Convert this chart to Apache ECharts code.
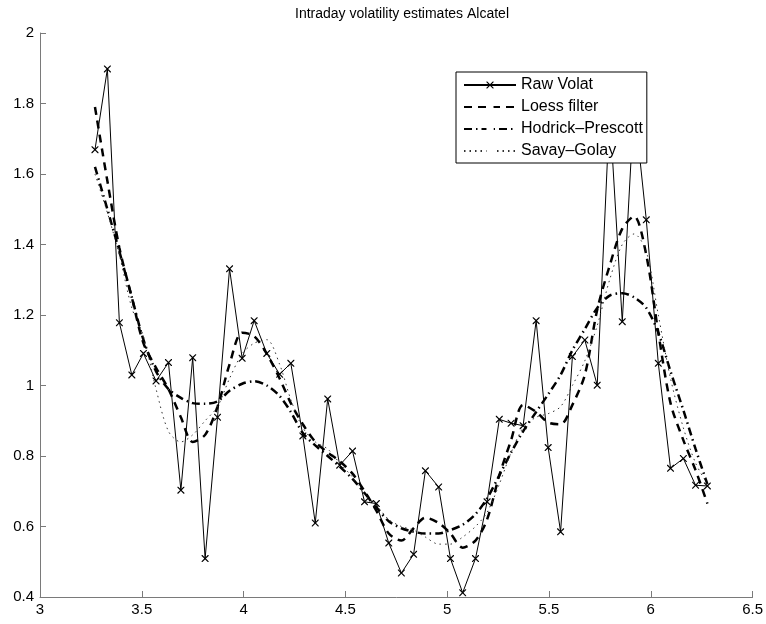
<!DOCTYPE html>
<html>
<head>
<meta charset="utf-8">
<script src="https://cdn.jsdelivr.net/npm/echarts@6/dist/echarts.min.js"></script>
<style>
  html, body { margin: 0; padding: 0; background: #fff; }
  #chart { width: 766px; height: 624px; }
</style>
</head>
<body>
<div id="chart"></div>
<script>
// sample times (x axis)
const times = [3.270, 3.331, 3.390, 3.451, 3.508, 3.570, 3.631, 3.692, 3.750, 3.811,
  3.872, 3.931, 3.993, 4.052, 4.114, 4.177, 4.232, 4.291, 4.352, 4.413,
  4.472, 4.535, 4.594, 4.652, 4.713, 4.775, 4.835, 4.893, 4.958, 5.016,
  5.076, 5.139, 5.196, 5.256, 5.314, 5.373, 5.437, 5.496, 5.557, 5.615,
  5.676, 5.737, 5.798, 5.860, 5.918, 5.978, 6.037, 6.097, 6.160, 6.220, 6.278]

const rawVolat = [1.669, 1.898, 1.178, 1.030, 1.091, 1.013, 1.065, 0.703, 1.079, 0.509,
  0.910, 1.331, 1.077, 1.184, 1.091, 1.032, 1.063, 0.857, 0.610, 0.962,
  0.774, 0.814, 0.670, 0.665, 0.553, 0.468, 0.521, 0.758, 0.712, 0.509,
  0.412, 0.509, 0.670, 0.904, 0.893, 0.886, 1.184, 0.824, 0.585, 1.082,
  1.129, 1.001, 1.78, 1.181, 1.80, 1.470, 1.063, 0.765, 0.793, 0.717, 0.715]

const loess = [1.79, 1.58, 1.39, 1.25, 1.12, 1.05, 0.99, 0.91, 0.84, 0.86,
  0.94, 1.06, 1.15, 1.14, 1.09, 1.02, 0.95, 0.89, 0.84, 0.81,
  0.785, 0.75, 0.70, 0.645, 0.58, 0.56, 0.595, 0.625, 0.61, 0.58,
  0.54, 0.56, 0.62, 0.745, 0.845, 0.945, 0.925, 0.895, 0.89, 0.945,
  1.03, 1.215, 1.34, 1.445, 1.48, 1.37, 1.15, 0.95, 0.845, 0.76, 0.665]

const hodrick = [1.62, 1.50, 1.38, 1.25, 1.13, 1.04, 0.99, 0.965, 0.95, 0.948,
  0.955, 0.985, 1.005, 1.012, 1.0, 0.97, 0.925, 0.865, 0.83, 0.80,
  0.77, 0.735, 0.695, 0.655, 0.615, 0.595, 0.585, 0.58, 0.58, 0.59,
  0.605, 0.635, 0.68, 0.745, 0.81, 0.87, 0.925, 0.975, 1.03, 1.10,
  1.16, 1.22, 1.255, 1.262, 1.25, 1.22, 1.15, 1.04, 0.93, 0.82, 0.72]

const savay = [1.60, 1.49, 1.37, 1.22, 1.14, 0.99, 0.87, 0.84, 0.86, 0.90,
  0.94, 1.02, 1.09, 1.12, 1.13, 1.06, 0.96, 0.88, 0.84, 0.82,
  0.78, 0.74, 0.69, 0.66, 0.62, 0.60, 0.59, 0.57, 0.55, 0.55,
  0.57, 0.60, 0.64, 0.72, 0.81, 0.88, 0.91, 0.92, 0.94, 1.00,
  1.07, 1.17, 1.30, 1.40, 1.43, 1.38, 1.20, 1.02, 0.88, 0.78, 0.72]

const seriesNames = ['Raw Volat', 'Loess filter', 'Hodrick–Prescott', 'Savay–Golay']

function pairs(values) {
  return times.map((t, i) => [t, values[i]])
}

const chart = echarts.init(document.getElementById('chart'))
const font = 'Liberation Sans, Arial, Helvetica, sans-serif'
const axisGray = '#7a7a7a'
const crossMark = 'path://M0,0L1.2,0L5,3.8L8.8,0L10,0L10,1.2L6.2,5L10,8.8L10,10L8.8,10L5,6.2L1.2,10L0,10L0,8.8L3.8,5L0,1.2Z'
// no marker in the legend for the smoothed lines
const hiddenMark = { color: 'rgba(0,0,0,0)', borderWidth: 0 }

const option = {
  animation: false,
  backgroundColor: '#fff',
  textStyle: { fontFamily: font },
  title: {
    text: 'Intraday volatility estimates Alcatel',
    left: 397,
    textAlign: 'center',
    top: 2,
    textStyle: { fontSize: 14, fontWeight: 'normal', color: '#000', fontFamily: font },
  },
  grid: { left: 40, right: 12, top: 33, bottom: 27 },
  legend: {
    orient: 'vertical',
    left: 456,
    top: 72,
    padding: [5, 4, 4, 7],
    itemGap: 6,
    itemWidth: 52,
    itemHeight: 9,
    backgroundColor: '#fff',
    borderColor: '#000',
    borderWidth: 1,
    borderRadius: 0,
    textStyle: { fontSize: 16, color: '#000', fontFamily: font },
    data: [
      { name: seriesNames[0] },
      { name: seriesNames[1], itemStyle: hiddenMark },
      { name: seriesNames[2], itemStyle: hiddenMark },
      { name: seriesNames[3], itemStyle: hiddenMark },
    ],
  },
  xAxis: {
    type: 'value',
    min: 3,
    max: 6.5,
    interval: 0.5,
    axisLine: { onZero: false, lineStyle: { color: axisGray, width: 1 } },
    axisTick: { inside: true, length: 6, lineStyle: { color: axisGray } },
    axisLabel: { color: '#000', fontSize: 15, margin: 5, fontFamily: font },
    splitLine: { show: false },
  },
  yAxis: {
    type: 'value',
    min: 0.4,
    max: 2,
    interval: 0.2,
    axisLine: { show: true, onZero: false, lineStyle: { color: axisGray, width: 1 } },
    axisTick: { show: true, inside: true, length: 6, lineStyle: { color: axisGray } },
    axisLabel: { color: '#000', fontSize: 15, margin: 6, fontFamily: font },
    splitLine: { show: false },
  },
  series: [
    {
      name: seriesNames[0],
      type: 'line',
      data: pairs(rawVolat),
      symbol: crossMark,
      symbolSize: 7,
      showAllSymbol: true,
      itemStyle: { color: '#000' },
      lineStyle: { color: '#000', width: 1 },
    },
    {
      name: seriesNames[1],
      type: 'line',
      data: pairs(loess),
      smooth: 0.3,
      showSymbol: false,
      itemStyle: { color: '#000' },
      lineStyle: { color: '#000', width: 2.5, type: [8, 6] },
    },
    {
      name: seriesNames[2],
      type: 'line',
      data: pairs(hodrick),
      smooth: 0.3,
      showSymbol: false,
      itemStyle: { color: '#000' },
      lineStyle: { color: '#000', width: 2.5, type: [8, 4, 1.5, 4] },
    },
    {
      name: seriesNames[3],
      type: 'line',
      data: pairs(savay),
      smooth: 0.3,
      showSymbol: false,
      itemStyle: { color: '#333' },
      lineStyle: { color: '#333', width: 1, type: [1.5, 4] },
    },
  ],
}
chart.setOption(option)
</script>
</body>
</html>
